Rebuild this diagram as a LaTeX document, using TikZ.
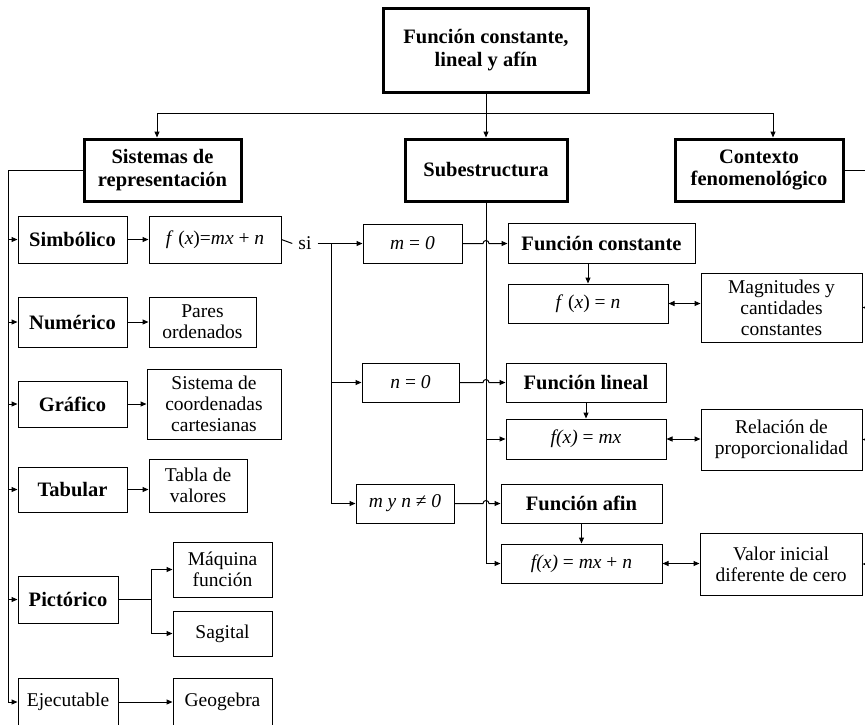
\documentclass[tikz,border=0pt]{standalone}
\usepackage{fontspec}
\setmainfont{Liberation Serif}
\usetikzlibrary{arrows.meta,calc}
\newcommand\regf{\fontsize{19.5}{21}\selectfont}
\newcommand\boldf{\fontsize{20.5}{22.5}\selectfont\bfseries}
\begin{document}
\begin{tikzpicture}[x=1pt,y=-1pt,
  every node/.style={inner sep=0pt, align=center},
  box/.style n args={2}{draw=black, line width=1pt, minimum width=#1, minimum height=#2, font=\regf},
  bbox/.style n args={2}{box={#1}{#2}, font=\boldf},
  headbox/.style n args={2}{draw=black, line width=3pt, minimum width=#1, minimum height=#2, font=\boldf},
  line/.style={line width=1pt},
  arr/.style={line, -{Triangle[length=6pt,width=5pt]}},
  darr/.style={line, {Triangle[length=6pt,width=5pt]}-{Triangle[length=6pt,width=5pt]}}]
\clip (0,0) rectangle (865,724);
\path[use as bounding box] (0,0) rectangle (865,724);

% heading and the three branches
\node[headbox={205}{84}] (top) at (486,50) {Función constante,\\lineal y afín};
\node[headbox={157}{62}] (sis) at (162.5,170) {Sistemas de\\representación};
\node[headbox={162}{62}] (sub) at (486,170) {Subestructura};
\node[headbox={168}{62}] (ctx) at (759,170) {Contexto\\fenomenológico};

% representation systems
\node[bbox={109}{47}] (sim) at (72.5,239.5) {Simbólico};
\node[bbox={109}{50}] (num) at (72.5,322) {Numérico};
\node[bbox={109}{46}] (gra) at (72.5,404) {Gráfico};
\node[bbox={109}{45}] (tab) at (72.5,489.5) {Tabular};
\node[bbox={100}{47}] (pic) at (68,599.5) {Pictórico};
\node[box={100}{48}] (eje) at (68,702) {Ejecutable};

\node[box={132}{47}] (fsim) at (215,239.5) {\textit{f} (\textit{x})=\textit{mx} + \textit{n}};
\node[box={107}{50}] (par) at (202.5,322) {Pares\\ordenados};
\node[box={134}{70}] (coo) at (214,404) {Sistema de\\coordenadas\\cartesianas};
\node[box={98}{53}] (tva) at (198,485.5) {Tabla de\\valores};
\node[box={99}{55}] (maq) at (222.5,569.5) {Máquina\\función};
\node[box={99}{45}] (sag) at (222.5,633.5) {Sagital};
\node[box={99}{48}] (geo) at (222.5,702) {Geogebra};

\node[font=\regf, inner xsep=6pt] (si) at (305,243.5) {si};

% conditions
\node[box={99}{39}] (m0) at (412.5,243.5) {\textit{m} = \textit{0}};
\node[box={97}{39}] (n0) at (410.5,382.5) {\textit{n} = \textit{0}};
\node[box={98}{39}] (mn) at (405,503.5) {\textit{m y n} ≠ \textit{0}};

% function types
\node[bbox={187}{40}] (fc) at (601.5,243.5) {Función constante};
\node[box={160}{39}] (fn) at (588,303.5) {\textit{f} (\textit{x}) = \textit{n}};
\node[bbox={160}{39}] (fl) at (586,382.5) {Función lineal};
\node[box={160}{40}] (fmx) at (586,439) {\textit{f(x)} = \textit{mx}};
\node[bbox={161}{39}] (fa) at (581.5,503.5) {Función afin};
\node[box={161}{39}] (fmxn) at (581.5,563.5) {\textit{f(x)} = \textit{mx} + \textit{n}};

% phenomenological context
\node[box={161}{69}] (mag) at (781.5,307.5) {Magnitudes y\\cantidades\\constantes};
\node[box={161}{61}] (rel) at (781.5,439.5) {Relación de\\proporcionalidad};
\node[box={162}{62}] (val) at (781,564) {Valor inicial\\diferente de cero};

% top distribution
\coordinate (hl) at (157,113);
\coordinate (hr) at (773,113);
\draw[line] (hl) -- (hr);
\draw[arr] (top.south) -- (sub.north);
\draw[arr] (hl) -- (hl |- sis.north);
\draw[arr] (hr) -- (hr |- ctx.north);

% left spine
\coordinate (sp) at (8,0);
\draw[line] (sis.west) -| (sp |- eje.west);
\foreach \n in {sim,num,gra,tab,pic,eje}
  \draw[arr] (sp |- \n.west) -- (\n.west);
\draw[arr] (sim.east) -- (fsim.west);
\draw[arr] (num.east) -- (par.west);
\draw[arr] (gra.east) -- (coo.west);
\draw[arr] (tab.east) -- (tab.east -| tva.west);
\draw[arr] (pic.east) -- ++(33,0) |- (maq.west);
\draw[arr] (pic.east) -- ++(33,0) |- (sag.west);
\draw[arr] (eje.east) -- (geo.west);

% symbolic condition branch
\draw[line] (fsim.east) -- (si.west);
\draw[arr] (si.east) -- (m0.west);
\coordinate (br) at (331,243.5);
\draw[arr] (br) |- (n0.west);
\draw[arr] (br) |- (mn.west);

% substructure spine
\draw[arr] (sub.south) |- (fmxn.west);
\draw[arr] (sub.south |- fmx.west) -- (fmx.west);

% condition to function, hopping over the spine
\foreach \a/\b in {m0/fc,n0/fl,mn/fa}
  \draw[arr] (\a.east) -- ($(sub.south |- \a.east)+(-3,0)$)
     arc[start angle=180,end angle=0,radius=3pt] -- (\b.west |- \a.east);

\draw[arr] (fn.north |- fc.south) -- (fn.north);
\draw[arr] (fl.south) -- (fmx.north);
\draw[arr] (fa.south) -- (fmxn.north);

\draw[darr] (fn.east) -- (fn.east -| mag.west);
\draw[darr] (fmx.east) -- (fmx.east -| rel.west);
\draw[darr] (fmxn.east) -- (fmxn.east -| val.west);

% context spine running past the right edge
\coordinate (rx) at (878,0);
\draw[line] (ctx.east) -- (ctx.east -| rx) -- (rx |- val.east);
\foreach \n in {mag,rel,val}
  \draw[arr] (rx |- \n.east) -- (\n.east);
\end{tikzpicture}
\end{document}
